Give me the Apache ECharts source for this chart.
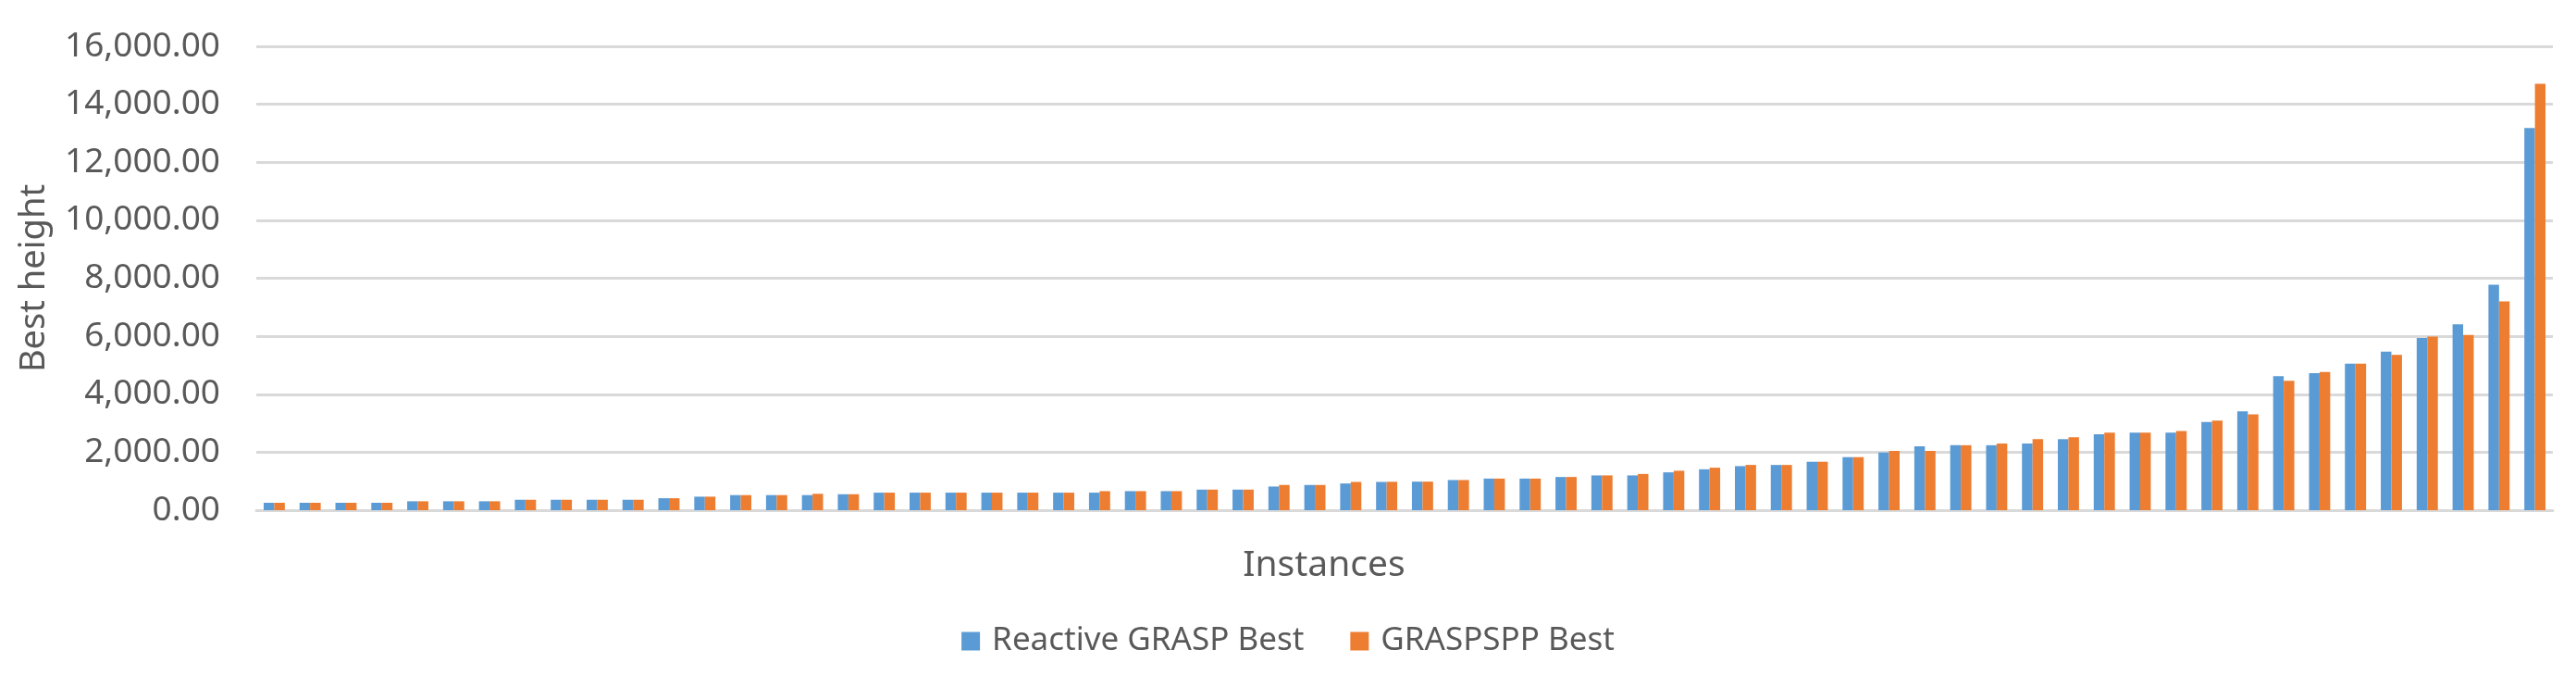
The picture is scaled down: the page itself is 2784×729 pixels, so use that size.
<!DOCTYPE html>
<html>
<head>
  <meta charset="UTF-8">
  <style>
    html, body { margin: 0; padding: 0; background: #fff; }
    #chart { width: 2784px; height: 729px; }
  </style>
</head>
<body>
<div id="chart"></div>
<script src="https://cdn.jsdelivr.net/npm/echarts@6/dist/echarts.min.js"></script>
<script type="text/javascript">
  // instances, sorted by best height
  var instances = ['1','2','3','4','5','6','7','8','9','10','11','12','13','14','15','16',
    '17','18','19','20','21','22','23','24','25','26','27','28','29','30','31','32',
    '33','34','35','36','37','38','39','40','41','42','43','44','45','46','47','48',
    '49','50','51','52','53','54','55','56','57','58','59','60','61','62','63','64'];

  var reactiveBest = [255, 255, 255, 255, 307, 307, 307, 360, 360, 360, 360, 413, 466, 520, 520, 520,
    550, 605, 605, 605, 605, 605, 605, 605, 657, 657, 710, 710, 816, 870, 922, 975,
    985, 1040, 1090, 1090, 1145, 1200, 1200, 1305, 1410, 1520, 1560, 1670, 1830, 1990, 2200, 2240,
    2240, 2300, 2450, 2620, 2675, 2675, 3040, 3410, 4620, 4730, 5050, 5470, 5940, 6410, 7780, 13180];

  var grasppBest = [255, 255, 255, 255, 307, 307, 307, 360, 360, 360, 360, 413, 466, 520, 520, 565,
    550, 605, 605, 605, 605, 605, 605, 657, 657, 657, 710, 710, 870, 870, 975, 980,
    985, 1040, 1090, 1090, 1145, 1200, 1250, 1360, 1465, 1560, 1560, 1670, 1830, 2045, 2045, 2240,
    2300, 2450, 2515, 2675, 2675, 2730, 3090, 3305, 4460, 4770, 5050, 5360, 5990, 6045, 7200, 14710];

  var textColor = '#595959';
  var font = 'Noto Sans';

  var myChart = echarts.init(document.getElementById('chart'));
  var option = {
    animation: false,
    color: ['#5B9BD5', '#ED7D31'],
    textStyle: {fontFamily: font, color: textColor},
    grid: {left: 277, right: 25, top: 50, bottom: 178},
    legend: {
      bottom: 14,
      left: 'center',
      itemWidth: 20,
      itemHeight: 20,
      itemGap: 50,
      icon: 'rect',
      textStyle: {fontSize: 35, color: textColor, fontFamily: font, padding: [0, 0, 0, 8]},
      data: ['Reactive GRASP Best', 'GRASPSPP Best']
    },
    xAxis: {
      type: 'category',
      data: instances,
      name: 'Instances',
      nameLocation: 'middle',
      nameGap: 40,
      nameTextStyle: {fontSize: 39, color: textColor, padding: [0, 174, 0, 0]},
      axisLine: {lineStyle: {color: '#D9D9D9', width: 3}},
      axisTick: {show: false},
      axisLabel: {show: false}
    },
    yAxis: {
      type: 'value',
      min: 0,
      max: 16000,
      interval: 2000,
      name: 'Best height',
      nameLocation: 'middle',
      nameGap: 221,
      nameTextStyle: {fontSize: 38, color: textColor},
      axisLine: {show: false},
      axisTick: {show: false},
      axisLabel: {
        fontSize: 37,
        color: textColor,
        margin: 39,
        formatter: function (v) {
          return v.toLocaleString('en-US', {minimumFractionDigits: 2, maximumFractionDigits: 2});
        }
      },
      splitLine: {lineStyle: {color: '#D9D9D9', width: 3}}
    },
    series: [
      {
        name: 'Reactive GRASP Best',
        type: 'bar',
        data: reactiveBest,
        barGap: '0%',
        barCategoryGap: '41%'
      },
      {
        name: 'GRASPSPP Best',
        type: 'bar',
        data: grasppBest,
        barGap: '0%',
        barCategoryGap: '41%'
      }
    ]
  };
  myChart.setOption(option);
</script>
</body>
</html>
